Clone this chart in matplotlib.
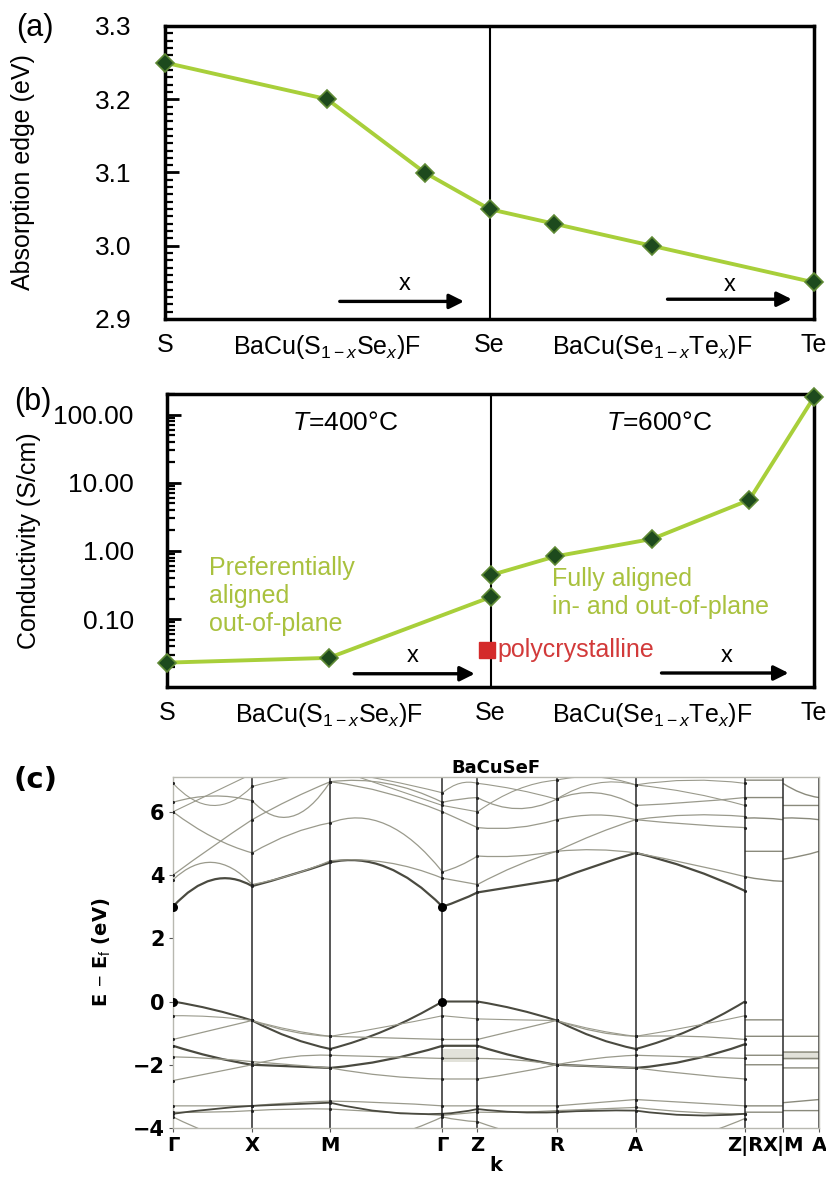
import matplotlib
matplotlib.use('Agg')
import matplotlib.pyplot as plt
from matplotlib.path import Path
from matplotlib.patches import PathPatch
from matplotlib.ticker import FixedLocator, MultipleLocator, NullFormatter, LogLocator, FormatStrFormatter
import numpy as np

plt.rcParams.update({
    'font.family': ['Liberation Sans', 'DejaVu Sans'],
    'mathtext.fontset': 'custom',
    'mathtext.rm': 'Liberation Sans',
    'mathtext.it': 'Liberation Sans:italic',
    'mathtext.bf': 'Liberation Sans:bold',
})

# ---------------- data ----------------
comp_pos = [0, 0.5, 1, 1.5, 2]
comp_labels = ['S', r'BaCu(S$_{1-x}$Se$_x$)F', 'Se', r'BaCu(Se$_{1-x}$Te$_x$)F', 'Te']

# (a) absorption edge
edge_x = [0.0, 0.5, 0.8, 1.0, 1.2, 1.5, 2.0]
edge_ev = [3.25, 3.20, 3.10, 3.05, 3.03, 3.00, 2.95]

# (b) conductivity
cond_x_400 = [0.0, 0.5, 1.0]
cond_400 = [0.023, 0.027, 0.21]
cond_x_600 = [1.0, 1.2, 1.5, 1.8, 2.0]
cond_600 = [0.44, 0.83, 1.5, 5.6, 180.0]
poly_x = [0.99]
poly_cond = [0.035]
cond_ticks = [0.01, 0.1, 1, 10, 100]
cond_ticklabels = ['0.01', '0.10', '1.00', '10.00', '100.00']

# (c) band structure of BaCuSeF
hs_k = [0, 79, 157, 269, 304, 383, 462, 571]          # Γ X M Γ Z R A Z
rx_k = [571, 609]                                      # R -> X
ma_k = [609, 645]                                      # M -> A
k_ticks = [0, 79, 157, 269, 304, 383, 462, 571, 609, 645]
k_labels = ['Γ', 'X', 'M', 'Γ', 'Z', 'R', 'A', 'Z|R', 'X|M', 'A']

# band energies at high-symmetry points and segment midpoints
cb1 = [3.0, 3.85, 3.65, 4.0, 4.4, 4.25, 3.0, 3.2, 3.45, 3.65, 3.85, 4.3, 4.7, 4.2, 3.5]
cb2 = [3.85, 4.4, 3.7, 4.0, 4.45, 4.4, 3.9, 3.8, 3.7, 4.3, 4.75, 4.8, 4.7, 4.35, 3.95]
cb3 = [4.0, 4.9, 5.75, 6.4, 6.95, 6.6, 6.0, 5.75, 5.5, 5.5, 5.75, 5.9, 5.75, 5.6, 5.5]
cb4 = [6.0, 5.2, 4.7, 5.3, 5.65, 5.6, 4.1, 4.3, 4.6, 4.6, 4.75, 5.3, 5.75, 5.9, 5.85]
cb5 = [6.3, 6.5, 6.35, 5.85, 6.95, 6.9, 6.3, 6.4, 6.45, 6.1, 6.4, 6.6, 6.2, 6.3, 6.45]
cb6 = [6.9, 6.2, 6.8, 7.1, 7.3, 7.0, 6.6, 6.9, 6.9, 6.7, 6.4, 6.9, 6.85, 7.0, 6.9]
cb7 = [6.0, 6.6, 7.2, 7.3, 7.4, 6.8, 6.2, 6.1, 6.0, 6.7, 7.0, 7.1, 6.85, 6.6, 6.2]
vb1 = [0.0, -0.25, -0.6, -1.15, -1.5, -0.9, 0.0, 0.0, 0.0, -0.25, -0.6, -1.15, -1.5, -0.9, 0.0]
vb2 = [-1.2, -0.9, -0.6, -0.95, -1.1, -1.15, -1.2, -1.2, -1.2, -0.9, -0.6, -0.95, -1.1, -1.1, -1.2]
vb3 = [-0.45, -0.48, -0.6, -0.9, -1.1, -0.8, -0.45, -0.5, -0.55, -0.58, -0.6, -0.9, -1.1, -0.8, -0.45]
vb4 = [-1.4, -1.75, -2.0, -2.05, -2.1, -1.85, -1.4, -1.4, -1.4, -1.75, -2.0, -2.05, -2.1, -1.85, -1.35]
vb5 = [-2.5, -2.25, -2.0, -1.75, -1.7, -1.75, -1.8, -1.8, -1.8, -1.85, -2.0, -1.8, -1.7, -1.75, -1.8]
vb6 = [-1.75, -1.8, -1.9, -2.0, -2.1, -2.35, -2.45, -2.45, -2.45, -2.25, -2.0, -2.05, -2.1, -2.3, -2.45]
vb7 = [-3.3, -3.3, -3.3, -3.2, -3.15, -3.2, -3.3, -3.3, -3.3, -3.3, -3.3, -3.2, -3.1, -3.2, -3.3]
vb8 = [-3.5, -3.5, -3.45, -3.4, -3.4, -3.5, -3.6, -3.55, -3.5, -3.5, -3.45, -3.4, -3.35, -3.5, -3.55]
vb9 = [-3.55, -3.4, -3.3, -3.25, -3.2, -3.5, -3.55, -3.5, -3.4, -3.5, -3.5, -3.45, -3.45, -3.6, -3.55]
vb10 = [-3.65, -4.2, -4.6, -4.6, -4.6, -4.3, -3.65, -3.75, -3.8, -4.2, -4.5, -4.6, -4.6, -4.3, -3.7]
main_bands = [cb1, cb2, cb3, cb4, cb5, cb6, cb7, vb1, vb2, vb3, vb4, vb5, vb6, vb7, vb8, vb9, vb10]
main_weight = [1.6, 0.9, 0.9, 0.9, 0.9, 0.8, 0.8, 1.5, 0.9, 0.8, 1.6, 0.9, 0.9, 0.9, 0.9, 1.3, 0.9]

rx_bands = [[7.0, 7.0, 7.0], [6.45, 6.45, 6.45], [5.8, 5.8, 5.75], [4.75, 4.75, 4.75],
            [3.95, 3.85, 3.8], [-0.58, -0.58, -0.58], [-1.1, -1.1, -1.1], [-1.7, -1.7, -1.7],
            [-2.0, -2.0, -2.0], [-3.3, -3.3, -3.3], [-3.5, -3.5, -3.5]]
ma_bands = [[6.9, 6.6, 6.45], [6.2, 6.2, 6.2], [5.8, 5.8, 5.75], [4.5, 4.6, 4.75],
            [-1.1, -1.1, -1.1], [-1.6, -1.6, -1.6], [-1.8, -1.8, -1.8], [-2.1, -2.1, -2.1],
            [-3.2, -3.15, -3.1], [-3.45, -3.45, -3.45]]
band_edges_k = [0, 269]
vbm = [0.0, 0.0]
cbm = [3.0, 3.0]

# ---------------- styling ----------------
LINE_GREEN = '#a8cf3a'
TEXT_GREEN = '#a9c13e'
MARK_FACE = '#1d4a1d'
MARK_EDGE = '#5f8a34'

fig = plt.figure(figsize=(8.26, 11.78), dpi=100)
fig.patch.set_facecolor('white')


def style_comp_axis(ax):
    ax.set_xlim(0, 2)
    ax.set_xticks(comp_pos)
    ax.set_xticklabels(comp_labels, fontsize=18)
    ax.xaxis.set_tick_params(which='both', length=0, pad=10)
    ax.tick_params(axis='y', which='both', direction='in', labelsize=19, pad=24)
    ax.tick_params(axis='y', which='major', length=10, width=2, color='black')
    ax.tick_params(axis='y', which='minor', length=6, width=1.6, color='black')
    for s in ax.spines.values():
        s.set_linewidth(2.5)
    ax.axvline(1, color='black', lw=1.5, zorder=1)


def draw_x_arrow(ax, x0, x1, y, ytxt, xtxt):
    ax.annotate('', xy=(x1, y), xytext=(x0, y),
                arrowprops=dict(arrowstyle='-|>', color='black', lw=2.4, mutation_scale=22))
    ax.text(xtxt, ytxt, 'x', fontsize=17, ha='center', va='center')


# ---------------- (a) absorption edge ----------------
axa = fig.add_axes([165 / 826, 1 - 319 / 1178, 649 / 826, 293 / 1178])
axa.set_ylim(2.9, 3.3)
axa.yaxis.set_major_locator(MultipleLocator(0.1))
axa.yaxis.set_minor_locator(MultipleLocator(0.01))
axa.yaxis.set_major_formatter(FormatStrFormatter('%.1f'))
style_comp_axis(axa)
axa.plot(edge_x, edge_ev, color=LINE_GREEN, lw=2.8, marker='D', ms=9,
         mfc=MARK_FACE, mec=MARK_EDGE, mew=1.2, zorder=3, clip_on=False)
axa.set_ylabel('Absorption edge (eV)', fontsize=18)
axa.yaxis.set_label_coords(-0.2, 0.5)
draw_x_arrow(axa, 0.53, 0.93, 2.924, 2.948, 0.74)
draw_x_arrow(axa, 1.54, 1.94, 2.927, 2.946, 1.74)
fig.text(35 / 826, 1 - 28 / 1178, '(a)', fontsize=22, ha='center', va='center')

# ---------------- (b) conductivity ----------------
axb = fig.add_axes([167 / 826, 1 - 687 / 1178, 647 / 826, 293 / 1178])
axb.set_yscale('log')
axb.set_ylim(0.0101, 200)
axb.yaxis.set_major_locator(FixedLocator(cond_ticks))
axb.yaxis.set_minor_locator(LogLocator(base=10, subs=np.arange(2, 10), numticks=20))
axb.yaxis.set_minor_formatter(NullFormatter())
axb.set_yticklabels(cond_ticklabels)
style_comp_axis(axb)
axb.plot(cond_x_400, cond_400, color=LINE_GREEN, lw=2.8, marker='D', ms=9,
         mfc=MARK_FACE, mec=MARK_EDGE, mew=1.2, zorder=3, clip_on=False)
axb.plot(cond_x_600, cond_600, color=LINE_GREEN, lw=2.8, marker='D', ms=9,
         mfc=MARK_FACE, mec=MARK_EDGE, mew=1.2, zorder=3, clip_on=False)
axb.plot(poly_x, poly_cond, ls='none', marker='s', ms=11, color='#d42a2a', zorder=4)
axb.text(1.02, poly_cond[0], 'polycrystalline', color='#d23a3a', fontsize=18,
         va='center', ha='left')
axb.text(0.55, 76, r'$T$=400°C', fontsize=19, ha='center', va='center')
axb.text(1.52, 76, r'$T$=600°C', fontsize=19, ha='center', va='center')
axb.text(0.13, 0.22, 'Preferentially\naligned\nout-of-plane', color=TEXT_GREEN,
         fontsize=18, ha='left', va='center', linespacing=1.2)
axb.text(1.19, 0.24, 'Fully aligned\nin- and out-of-plane', color=TEXT_GREEN,
         fontsize=18, ha='left', va='center', linespacing=1.2)
axb.set_ylabel('Conductivity (S/cm)', fontsize=18)
axb.yaxis.set_label_coords(-0.195, 0.5)
draw_x_arrow(axb, 0.57, 0.96, 0.0158, 0.029, 0.76)
draw_x_arrow(axb, 1.52, 1.93, 0.0162, 0.029, 1.73)
fig.text(33 / 826, 1 - 402 / 1178, '(b)', fontsize=22, ha='center', va='center')

# ---------------- (c) band structure ----------------
axc = fig.add_axes([173 / 826, 1 - 1128 / 1178, 646 / 826, 351 / 1178])
axc.set_xlim(0, 645)
axc.set_ylim(-4, 7.1)


def band_path(ks, vals):
    # quadratic Bezier pieces passing through each midpoint value
    verts = [(ks[0], vals[0])]
    codes = [Path.MOVETO]
    for i in range(len(ks) - 1):
        x0, x2 = ks[i], ks[i + 1]
        y0, ym, y2 = vals[2 * i], vals[2 * i + 1], vals[2 * i + 2]
        verts += [((x0 + x2) / 2, 2 * ym - (y0 + y2) / 2), (x2, y2)]
        codes += [Path.CURVE3, Path.CURVE3]
    return Path(verts, codes)


for vals, w in zip(main_bands, main_weight):
    shade = '#4a4a40' if w > 1.2 else '#9a9a8c'
    axc.add_patch(PathPatch(band_path(hs_k, vals), fill=False, edgecolor=shade, lw=w, zorder=2))
    axc.scatter(hs_k, vals[::2], s=5, color='#222222', zorder=3, linewidths=0)
for vals in rx_bands:
    axc.add_patch(PathPatch(band_path(rx_k, vals), fill=False, edgecolor='#8a8a7c', lw=1.0, zorder=2))
for vals in ma_bands:
    axc.add_patch(PathPatch(band_path(ma_k, vals), fill=False, edgecolor='#8a8a7c', lw=1.0, zorder=2))

axc.fill_between(hs_k[3:5], -1.9, -1.5, color='#e2e2da', lw=0, zorder=1)
axc.fill_between(ma_k, -1.85, -1.55, color='#e2e2da', lw=0, zorder=1)
axc.scatter(band_edges_k, vbm, s=30, color='black', zorder=4)
axc.scatter(band_edges_k, cbm, s=30, color='black', zorder=4)

for k in k_ticks:
    axc.axvline(k, color='#2a2a2a', lw=1.1, zorder=2.5)
for s in axc.spines.values():
    s.set_color('#b8b8b0')
    s.set_linewidth(1.0)

axc.set_xticks(k_ticks)
axc.set_xticklabels(k_labels, fontsize=14, fontweight='bold', family='DejaVu Sans')
axc.set_yticks([-4, -2, 0, 2, 4, 6])
axc.set_yticklabels(['−4', '−2', '0', '2', '4', '6'], fontsize=15, fontweight='bold',
                    family='DejaVu Sans')
axc.tick_params(axis='both', length=3, color='#555555', pad=3, direction='out')
axc.set_xlabel('k', fontsize=14, fontweight='bold', family='DejaVu Sans', labelpad=0)
axc.set_ylabel(r'E $-$ E$_\mathrm{f}$ (eV)', fontsize=14, fontweight='bold', family='DejaVu Sans')
axc.yaxis.set_label_coords(-0.094, 0.5)
axc.set_title('BaCuSeF', fontsize=13, fontweight='bold', family='DejaVu Sans', pad=3)
fig.text(36 / 826, 1 - 780 / 1178, '(c)', fontsize=21, fontweight='bold',
         family='DejaVu Sans', ha='center', va='center')

fig.savefig('out.png', dpi=100, facecolor='white')
